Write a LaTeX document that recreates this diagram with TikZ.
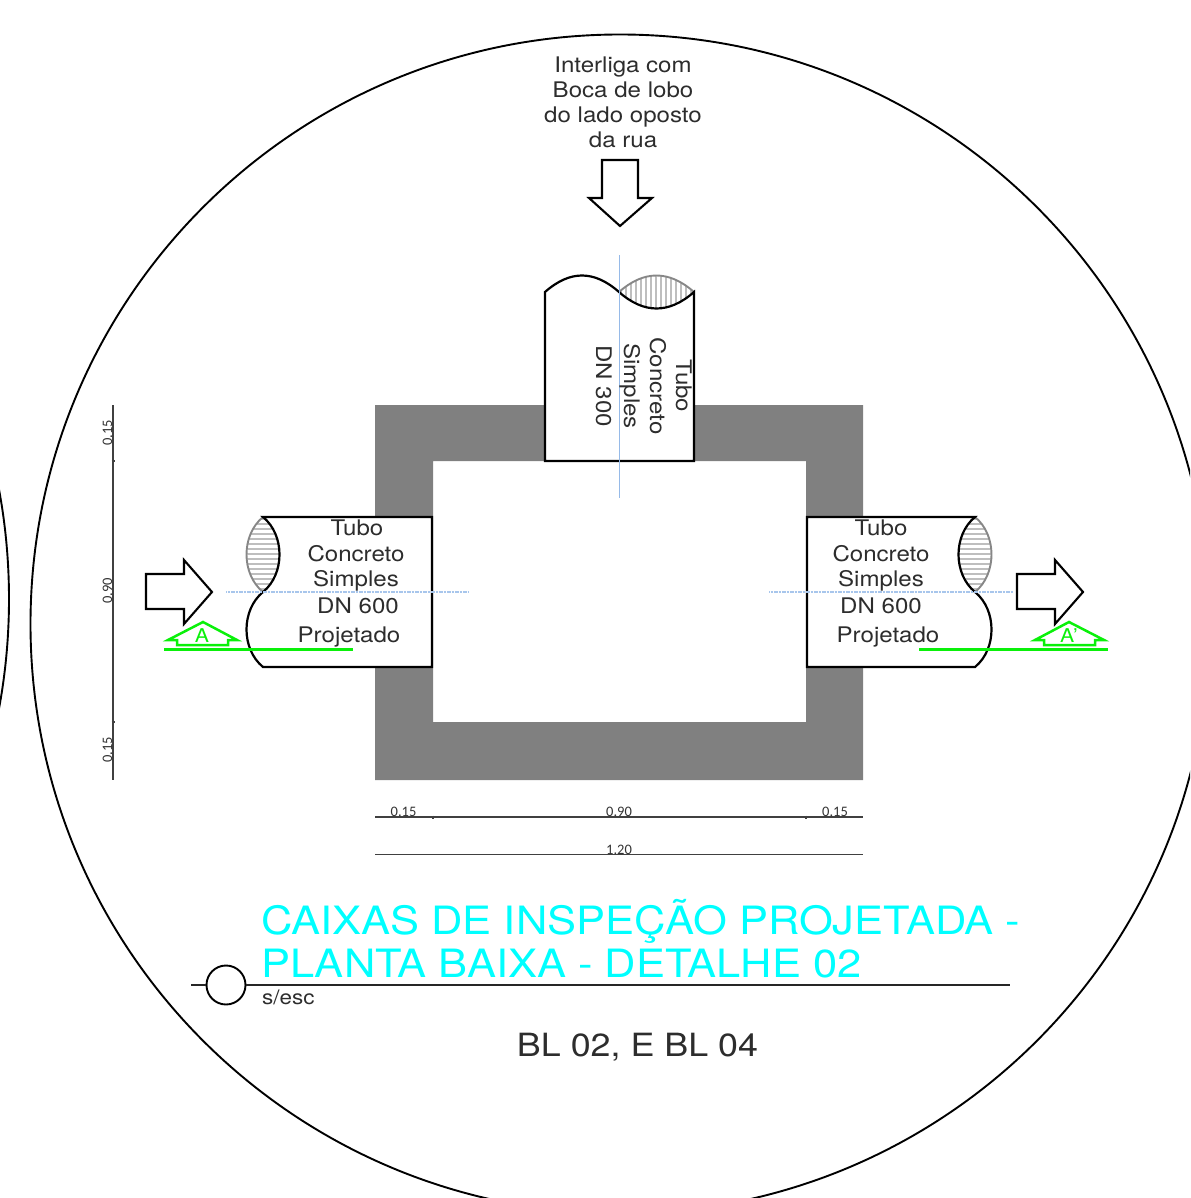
\documentclass[tikz,border=0pt]{standalone}
\usepackage{fontspec}
\setmainfont[FakeStretch=1.12]{TeX Gyre Heros}
\newfontfamily\dimfont{Carlito}
\newfontfamily\titlefont[FakeStretch=1.115]{TeX Gyre Heros}
\definecolor{wall}{RGB}{128,128,128}
\definecolor{axis}{RGB}{150,186,232}
\definecolor{axisdot}{RGB}{168,198,236}
\definecolor{hatchc}{RGB}{190,190,190}
\definecolor{lensc}{RGB}{135,135,135}
\definecolor{mark}{RGB}{10,240,10}
\definecolor{txt}{RGB}{45,45,45}
\tikzset{
  x=1pt,y=-1pt,
  outline/.style={draw=black,line width=2.1pt,line join=miter},
  pipe/.style={draw=black,line width=2.2pt,fill=white},
  lens/.style={draw=lensc,line width=1.9pt},
  hatching/.style={draw=hatchc,line width=1.4pt},
  axisline/.style={draw=axis,line width=1pt},
  axisdots/.style={draw=axisdot,line width=1.6pt,dash pattern=on 1.2pt off 0.4pt},
  greenline/.style={draw=mark,line width=2.5pt},
  dimline/.style={draw=black!75,line width=1.2pt},
  label/.style={anchor=base,inner sep=0pt,outer sep=0pt,text=txt,font=\fontsize{21.5}{22}\selectfont},
  dimlabel/.style={anchor=base,inner sep=0pt,outer sep=0pt,text=black!80,font=\dimfont\fontsize{14.5}{14.5}\selectfont},
}
\begin{document}
\begin{tikzpicture}
\useasboundingbox (0,0) rectangle (1190,1198);
\begin{scope}
\clip (0,0) rectangle (1190,1198);
\draw[line width=1.9pt] (620,624) circle [radius=589.5];
\draw[line width=1.9pt] (-591,599) circle [radius=600];
\end{scope}
% wall
\fill[wall,even odd rule] (375,405) rectangle (863,780) (433,461) rectangle (806,722);
% top pipe
\begin{scope}
\clip (619,292) .. controls (644,270) and (669,270) .. (694,292) .. controls (669,314) and (644,314) .. (619,292);
\foreach \x in {621,626,...,694} \draw[hatching] (\x,270) -- (\x,315);
\end{scope}
\draw[lens] (619,292) .. controls (644,270) and (669,270) .. (694,292);
\draw[pipe] (545,461) -- (545,292) .. controls (570,270) and (594,270) .. (619,292) .. controls (644,314) and (669,314) .. (694,292) -- (694,461) -- cycle;
% left pipe
\begin{scope}
\clip (263,517) .. controls (285,535) and (285,574) .. (263,592) .. controls (241,574) and (241,535) .. (263,517);
\foreach \y in {519,524,...,592} \draw[hatching] (240,\y) -- (285,\y);
\end{scope}
\draw[lens] (263,517) .. controls (241,535) and (241,574) .. (263,592);
\draw[pipe] (432,517) -- (263,517) .. controls (285,535) and (285,574) .. (263,592) .. controls (241,610) and (241,649) .. (263,667) -- (432,667) -- cycle;
% right pipe
\begin{scope}
\clip (975,517) .. controls (953,535) and (953,574) .. (975,592) .. controls (997,574) and (997,535) .. (975,517);
\foreach \y in {519,524,...,592} \draw[hatching] (950,\y) -- (1000,\y);
\end{scope}
\draw[lens] (975,517) .. controls (997,535) and (997,574) .. (975,592);
\draw[pipe] (807,517) -- (975,517) .. controls (953,535) and (953,574) .. (975,592) .. controls (997,610) and (997,649) .. (975,667) -- (807,667) -- cycle;
% axes
\draw[axisline] (619,255) -- (619,498);
\draw[axisdots] (226,592) -- (469,592);
\draw[axisdots] (769,592) -- (1013,592);
% flow arrows
\draw[outline] (602,160) -- (638,160) -- (638,198) -- (652,198) -- (620,226) -- (589,198) -- (602,198) -- cycle;
\draw[outline] (146,574) -- (184,574) -- (184,560) -- (212,592) -- (184,624) -- (184,609) -- (146,609) -- cycle;
\draw[outline] (1017,574) -- (1055,574) -- (1055,560) -- (1083,592) -- (1055,624) -- (1055,609) -- (1017,609) -- cycle;
% section marks
\draw[greenline] (203,622) -- (168,640) -- (177,640) -- (177,645) -- (228,645) -- (228,640) -- (237,640) -- cycle;
\draw[greenline] (164,649.5) -- (353,649.5);
\draw[greenline] (1069,622) -- (1035,640) -- (1044,640) -- (1044,645) -- (1095,645) -- (1095,640) -- (1104,640) -- cycle;
\draw[greenline] (919,649.5) -- (1108,649.5);
\node[anchor=base,inner sep=0pt,text=mark,font=\fontsize{19}{19}\selectfont] (secA) at (202,642) {A};
\node[anchor=base,inner sep=0pt,text=mark,font=\fontsize{19}{19}\selectfont] (secB) at (1069,642) {A'};
% top labels
\node[label] (t1) at (623,73) {Interliga com};
\node[label] (t2) at (623,98) {Boca de lobo};
\node[label] (t3) at (623,123) {do lado oposto};
\node[label] (t4) at (623,148) {da rua};
% rotated pipe labels
\node[label,rotate=-90] (v1) at (676,386) {Tubo};
\node[label,rotate=-90] (v2) at (650,386) {Concreto};
\node[label,rotate=-90] (v3) at (624,386) {Simples};
\node[label,rotate=-90] (v4) at (596,386) {DN 300};
% left pipe labels
\node[label] (l1) at (357,535) {Tubo};
\node[label] (l2) at (356,561) {Concreto};
\node[label] (l3) at (356,586) {Simples};
\node[label] (l4) at (358,613) {DN 600};
\node[label] (l5) at (349,642) {Projetado};
% right pipe labels
\node[label] (r1) at (881,535) {Tubo};
\node[label] (r2) at (881,561) {Concreto};
\node[label] (r3) at (881,586) {Simples};
\node[label] (r4) at (881,613) {DN 600};
\node[label] (r5) at (888,642) {Projetado};
% dimensions
\draw[dimline] (375,817) -- (863,817);
\draw[dimline] (433,815.5) -- (433,818.5) (806,815.5) -- (806,818.5);
\draw[dimline] (375,854.5) -- (863,854.5);
\draw[dimline] (113,405) -- (113,780);
\draw[dimline] (111.5,461) -- (114.5,461) (111.5,722) -- (114.5,722);
\node[dimlabel] (d1) at (403.5,816) {0.15};
\node[dimlabel] (d2) at (619,816) {0.90};
\node[dimlabel] (d3) at (835,816) {0.15};
\node[dimlabel] (d4) at (619,854) {1.20};
\node[dimlabel,rotate=90] (d5) at (112,433) {0.15};
\node[dimlabel,rotate=90] (d6) at (112,591) {0.90};
\node[dimlabel,rotate=90] (d7) at (112,750) {0.15};
% title block
\node[anchor=base west,inner sep=0pt,text={rgb,255:red,0;green,255;blue,255},font=\titlefont\fontsize{39}{39}\selectfont] (title1) at (261,934) {CAIXAS DE INSPEÇÃO PROJETADA -};
\node[anchor=base west,inner sep=0pt,text={rgb,255:red,0;green,255;blue,255},font=\titlefont\fontsize{39}{39}\selectfont] (title2) at (261,977) {PLANTA BAIXA - DETALHE 02};
\node[circle,draw=black,line width=1.9pt,minimum size=39pt,inner sep=0pt] (ref) at (226,985) {};
\coordinate (rl) at (191,985);
\coordinate (rr) at (1010,985);
\draw[line width=1.5pt,black!85] (rl) -- (ref.west) (ref.east) -- (rr);
\node[anchor=base west,inner sep=0pt,text=txt,font=\fontsize{20}{20}\selectfont] (esc) at (262,1004) {s/esc};
\node[anchor=base,inner sep=0pt,text=txt,font=\fontsize{32}{32}\selectfont] (bl) at (637.5,1056) {BL 02, E BL 04};
\end{tikzpicture}
\end{document}
